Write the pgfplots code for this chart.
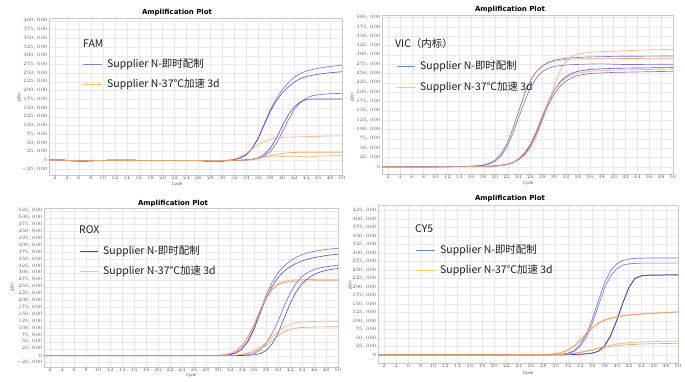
\documentclass[border=0pt]{standalone}
\usepackage{pgfplots}
\pgfplotsset{compat=1.18}
\usepackage{fontspec}
\setmainfont{Liberation Sans}
\newfontfamily\cjk{Noto Sans CJK SC}
\newfontfamily\dejavu{DejaVu Sans}
\definecolor{gridc}{RGB}{232,232,238}
\definecolor{framec}{RGB}{200,200,205}
\definecolor{tickc}{RGB}{90,90,90}
\definecolor{cbA}{RGB}{110,100,228}
\definecolor{cbB}{RGB}{72,52,192}
\definecolor{coA}{RGB}{246,172,105}
\definecolor{coB}{RGB}{238,148,78}
\definecolor{lgblue}{RGB}{110,140,205}
\definecolor{lgblueD}{RGB}{47,85,151}
\definecolor{lgorange}{RGB}{255,200,80}
\definecolor{txt}{RGB}{30,30,30}
\pgfplotsset{
  ampl/.style={
    scale only axis, anchor=south west,
    xmin=1, xmax=50, xtick={2,4,...,50},
    grid=major, major grid style={draw=gridc, line width=0.3pt},
    axis line style={draw=framec, line width=0.4pt},
    major tick length=0pt,
    tick label style={font=\fontsize{3.6}{4}\selectfont, text=tickc},
    xticklabel style={inner sep=1pt},
    yticklabel style={inner sep=1.5pt, /pgf/number format/fixed, /pgf/number format/precision=0, /pgf/number format/1000 sep={{,}}},
    scaled y ticks=false,
    ytick distance=25000,
    every axis plot/.append style={line width=0.65pt, no markers},
  },
  bl/.style={cbA, opacity=0.9},
  bd/.style={cbB, opacity=0.85},
  oa/.style={coA, opacity=0.9},
  od/.style={coB, opacity=0.85},
}
\begin{document}
\begin{tikzpicture}[x=1bp,y=1bp]
\path[use as bounding box, fill=white] (0,0) rectangle (685,381);

% ---------------- FAM ----------------
\begin{axis}[ampl, at={(49bp,206bp)}, width=293bp, height=157bp,
  ymin=-42000, ymax=408000]
\addplot[bl] coordinates {(1,1500)(3,1000)(5,-1500)(7,-2000)(9,-500)(12,500)(16,0)(22,0)(26,-500)(28,-2500)(30,-2000)(31,0)(32,2500)(33,7000)(34,16000)(35,35000)(36,65000)(37,105000)(38,145000)(39,177000)(40,202000)(41,222000)(42,238000)(43,249000)(44,256000)(46,264000)(48,269000)(50,273000)};
\addplot[bd] coordinates {(1,1500)(3,1000)(5,-1500)(7,-2000)(9,-500)(12,500)(16,0)(22,0)(26,-500)(28,-2500)(30,-2000)(31,0)(32,2500)(33,7000)(34,16000)(35,34000)(36,63000)(37,102000)(38,140000)(39,170000)(40,193000)(41,210000)(42,224000)(43,234000)(44,240000)(46,247000)(48,251000)(50,254000)};
\addplot[bl] coordinates {(1,1500)(3,1000)(5,-1500)(7,-2000)(9,-500)(12,500)(16,0)(22,0)(26,-500)(28,-2500)(30,-2000)(31,-500)(32,-500)(33,0)(34,1000)(35,2500)(36,5000)(37,12000)(38,25000)(39,48000)(40,80000)(41,115000)(42,145000)(43,165000)(44,178000)(45,185000)(46,188000)(48,191000)(50,192000)};
\addplot[bd] coordinates {(1,1500)(3,1000)(5,-1500)(7,-2000)(9,-500)(12,500)(16,0)(22,0)(26,-500)(28,-2500)(30,-2000)(31,-500)(32,0)(33,500)(34,1500)(35,3500)(36,7000)(37,17000)(38,35000)(39,62000)(40,98000)(41,130000)(42,153000)(43,167000)(44,174000)(45,176000)(50,176000)};
\addplot[oa] coordinates {(1,1000)(3,800)(5,-1000)(7,-1500)(9,-500)(12,500)(16,0)(22,0)(26,-500)(28,-2000)(30,-1000)(31,1000)(32,4000)(33,10000)(34,20000)(35,33000)(36,45000)(37,54000)(38,60000)(39,64000)(40,66000)(42,67000)(44,68000)(46,69000)(48,70000)(50,70000)};
\addplot[od] coordinates {(1,1000)(3,800)(5,-1000)(7,-1500)(9,-500)(12,500)(16,0)(22,0)(26,-500)(28,-2000)(30,-1500)(32,0)(34,500)(35,2000)(36,5000)(37,9000)(38,13000)(39,17000)(40,20000)(41,22000)(43,23000)(50,23000)};
\addplot[oa] coordinates {(1,1000)(3,800)(5,-1000)(7,-1500)(9,-500)(12,500)(16,0)(22,0)(26,-500)(28,-2000)(30,-1500)(32,0)(34,1000)(35,3000)(36,7000)(37,11000)(38,12000)(39,12000)(40,11000)(42,12000)(44,10000)(46,12000)(48,13000)(50,13000)};
\end{axis}

% ---------------- VIC ----------------
\begin{axis}[ampl, at={(382bp,207bp)}, width=291bp, height=159bp,
  ymin=-19600, ymax=407000]
\addplot[bl] coordinates {(1,0)(6,-500)(10,0)(14,500)(15,700)(16,1200)(17,2200)(18,4000)(19,8000)(20,17000)(21,33000)(22,60000)(23,100000)(24,148000)(25,195000)(26,232000)(27,256000)(28,271000)(29,280000)(30,286000)(32,291000)(35,294000)(40,296000)(50,297000)};
\addplot[od] coordinates {(1,0)(6,-500)(10,0)(14,500)(15,700)(16,1200)(17,2300)(18,4200)(19,8500)(20,18000)(21,34000)(22,61000)(23,101000)(24,149000)(25,196000)(26,232000)(27,255000)(28,269000)(29,278000)(30,283000)(32,288000)(35,290000)(40,290000)(50,291000)};
\addplot[bl] coordinates {(1,0)(6,-500)(10,0)(14,400)(16,1000)(17,2000)(18,3500)(19,7000)(20,14000)(21,28000)(22,52000)(23,88000)(24,132000)(25,175000)(26,212000)(27,238000)(28,255000)(29,264000)(30,269000)(32,273000)(35,275000)(38,276000)(42,274000)(50,275000)};
\addplot[bd] coordinates {(1,0)(6,-500)(12,0)(17,500)(19,1200)(20,2000)(21,3500)(22,6000)(23,11000)(24,20000)(25,35000)(26,58000)(27,92000)(28,133000)(29,173000)(30,205000)(31,228000)(32,242000)(33,251000)(34,256000)(36,261000)(40,264000)(50,266000)};
\addplot[oa] coordinates {(1,0)(6,-500)(12,0)(17,500)(19,1300)(20,2200)(21,4000)(22,7000)(23,12000)(24,22000)(25,38000)(26,63000)(27,98000)(28,138000)(29,176000)(30,205000)(31,225000)(32,238000)(33,246000)(34,251000)(36,256000)(40,259000)(50,262000)};
\addplot[bl] coordinates {(1,0)(6,-500)(12,0)(17,500)(19,1100)(20,1800)(21,3000)(22,5500)(23,10000)(24,19000)(25,33000)(26,55000)(27,88000)(28,127000)(29,165000)(30,195000)(31,216000)(32,230000)(33,239000)(34,245000)(36,250000)(40,253000)(50,256000)};
\addplot[oa] coordinates {(1,0)(6,-500)(12,0)(17,500)(19,1000)(20,1600)(21,2500)(22,5000)(23,10000)(24,18000)(25,30000)(26,50000)(27,80000)(28,122000)(29,170000)(30,218000)(31,258000)(32,283000)(33,296000)(34,302000)(35,305000)(36,307000)(40,310000)(45,313000)(50,315000)};
\end{axis}

% ---------------- ROX ----------------
\begin{axis}[ampl, at={(44bp,14.3bp)}, width=294bp, height=158.4bp,
  ymin=-40000, ymax=534000]
\addplot[bl] coordinates {(1,0)(10,0)(20,0)(28,0)(30,500)(31,1500)(32,4000)(33,10000)(34,25000)(35,55000)(36,100000)(37,160000)(38,218000)(39,265000)(40,300000)(41,325000)(42,343000)(43,356000)(44,366000)(45,373000)(46,378000)(48,385000)(50,389000)};
\addplot[bd] coordinates {(1,0)(10,0)(20,0)(28,0)(30,500)(31,1500)(32,4000)(33,10000)(34,24000)(35,52000)(36,95000)(37,152000)(38,207000)(39,250000)(40,283000)(41,306000)(42,322000)(43,334000)(44,343000)(45,350000)(46,355000)(48,363000)(50,368000)};
\addplot[oa] coordinates {(1,0)(10,0)(20,0)(28,0)(30,1000)(31,3000)(32,8000)(33,18000)(34,38000)(35,70000)(36,115000)(37,165000)(38,210000)(39,242000)(40,260000)(41,269000)(42,273000)(43,275000)(45,276000)(50,277000)};
\addplot[od] coordinates {(1,0)(10,0)(20,0)(28,0)(30,800)(31,2500)(32,7000)(33,16000)(34,35000)(35,66000)(36,110000)(37,160000)(38,205000)(39,238000)(40,257000)(41,265000)(42,268000)(43,270000)(45,271000)(50,272000)};
\addplot[bl] coordinates {(1,0)(10,0)(20,0)(30,0)(33,500)(34,1500)(35,3000)(36,8000)(37,20000)(38,45000)(39,80000)(40,125000)(41,178000)(42,225000)(43,262000)(44,287000)(45,302000)(46,312000)(47,318000)(48,322000)(49,325000)(50,328000)};
\addplot[bd] coordinates {(1,0)(10,0)(20,0)(30,0)(34,500)(35,1500)(36,3000)(37,7000)(38,18000)(39,42000)(40,80000)(41,135000)(42,188000)(43,230000)(44,260000)(45,280000)(46,294000)(47,303000)(48,309000)(49,313000)(50,316000)};
\addplot[oa] coordinates {(1,0)(10,0)(20,0)(30,0)(32,800)(33,2000)(34,5000)(35,10000)(36,18000)(37,30000)(38,47000)(39,67000)(40,87000)(41,103000)(42,113000)(43,119000)(44,122000)(46,124000)(48,125000)(50,126000)};
\addplot[od] coordinates {(1,0)(10,0)(20,0)(30,0)(33,1500)(34,4000)(35,8000)(36,14000)(37,24000)(38,38000)(39,55000)(40,72000)(41,86000)(42,95000)(43,100000)(44,102000)(46,104000)(50,105000)};
\end{axis}

% ---------------- CY5 ----------------
\begin{axis}[ampl, at={(378bp,18.3bp)}, width=300bp, height=157.7bp,
  ymin=-23000, ymax=441000]
\addplot[bl] coordinates {(1,0)(10,0)(20,0)(27,0)(30,1000)(31,2000)(32,5000)(33,12000)(34,30000)(35,60000)(36,105000)(37,160000)(38,212000)(39,248000)(40,268000)(41,278000)(42,282000)(43,284000)(45,285000)(50,285000)};
\addplot[bl] coordinates {(1,0)(10,0)(20,0)(27,0)(30,800)(31,1800)(32,4000)(33,10000)(34,25000)(35,52000)(36,93000)(37,145000)(38,196000)(39,233000)(40,254000)(41,264000)(42,268000)(44,270000)(50,270000)};
\addplot[bd] coordinates {(1,0)(10,0)(20,0)(30,0)(33,1000)(34,2000)(35,3000)(36,5000)(37,10000)(38,25000)(39,55000)(40,100000)(41,152000)(42,198000)(43,225000)(44,232000)(45,234000)(50,235000)};
\addplot[bd] coordinates {(1,0)(10,0)(20,0)(30,0)(33,1000)(34,2000)(35,3000)(36,5500)(37,11000)(38,27000)(39,58000)(40,103000)(41,155000)(42,200000)(43,226000)(44,233000)(45,235000)(50,236000)};
\addplot[oa] coordinates {(1,0)(10,0)(20,0)(27,500)(28,1000)(29,2000)(30,4000)(31,8000)(32,15000)(33,27000)(34,44000)(35,64000)(36,82000)(37,95000)(38,103000)(39,109000)(40,113000)(41,116000)(42,118000)(44,121000)(46,123000)(48,125000)(50,127000)};
\addplot[od] coordinates {(1,0)(10,0)(20,0)(27,500)(28,900)(29,1800)(30,3500)(31,7000)(32,13000)(33,24000)(34,40000)(35,60000)(36,78000)(37,92000)(38,101000)(39,107000)(40,111000)(42,117000)(46,122000)(50,126000)};
\addplot[oa] coordinates {(1,0)(10,0)(20,0)(29,500)(31,1000)(32,3000)(33,5000)(34,8000)(35,12000)(36,16000)(37,20000)(38,25000)(39,29000)(40,32000)(41,34000)(42,36000)(44,38000)(46,39000)(48,40000)(50,41000)};
\addplot[od] coordinates {(1,0)(10,0)(20,0)(29,500)(31,1000)(32,2500)(33,4000)(34,7000)(35,10000)(36,14000)(37,18000)(38,22000)(39,25000)(40,27000)(41,29000)(42,30000)(44,32000)(46,33000)(50,34000)};
\end{axis}

% ---------------- titles & axis names ----------------
\begin{scope}[every node/.style={inner sep=0pt}]
\node[font=\dejavu\bfseries\fontsize{7}{8}\selectfont, text=black] at (177,368.3) {Amplification Plot};
\node[font=\dejavu\bfseries\fontsize{7}{8}\selectfont, text=black] at (510,371.7) {Amplification Plot};
\node[font=\dejavu\bfseries\fontsize{7}{8}\selectfont, text=black] at (173,177) {Amplification Plot};
\node[font=\dejavu\bfseries\fontsize{7}{8}\selectfont, text=black] at (510,182) {Amplification Plot};
\node[font=\fontsize{4.2}{5}\selectfont, text=tickc] at (177,197) {Cycle};
\node[font=\fontsize{4.2}{5}\selectfont, text=tickc] at (528,198) {Cycle};
\node[font=\fontsize{4.2}{5}\selectfont, text=tickc] at (191,5.5) {Cycle};
\node[font=\fontsize{4.2}{5}\selectfont, text=tickc] at (528,7.5) {Cycle};
\node[font=\dejavu\fontsize{4.2}{5}\selectfont, text=tickc, rotate=90] at (19,284) {ΔRn};
\node[font=\dejavu\fontsize{4.2}{5}\selectfont, text=tickc, rotate=90] at (352,284) {ΔRn};
\node[font=\dejavu\fontsize{4.2}{5}\selectfont, text=tickc, rotate=90] at (12,94) {ΔRn};
\node[font=\dejavu\fontsize{4.2}{5}\selectfont, text=tickc, rotate=90] at (350,96) {ΔRn};
\end{scope}

% ---------------- legends ----------------
\begin{scope}[every node/.style={inner sep=0pt, anchor=west, text=txt, font=\cjk\fontsize{10.5}{12}\selectfont}]
\node at (83,337) {FAM};
\draw[lgblue, line width=0.6pt] (83,316.5) -- (102,316.5);
\node at (107,316.5) {Supplier N-即时配制};
\draw[lgorange, line width=0.6pt] (83,297) -- (102,297);
\node at (107,297) {Supplier N-37°C加速 3d};

\node at (395,337) {VIC（内标）};
\draw[lgblue, line width=0.6pt] (397,315) -- (415,315);
\node at (420,315) {Supplier N-即时配制};
\draw[lgorange, line width=0.6pt] (397,294) -- (415,294);
\node at (420,294) {Supplier N-37°C加速 3d};

\node at (79,151) {ROX};
\draw[lgblueD, line width=0.6pt] (80,130) -- (98,130);
\node at (103,130) {Supplier N-即时配制};
\draw[lgorange, line width=0.6pt] (80,110) -- (98,110);
\node at (103,110) {Supplier N-37°C加速 3d};

\node at (415,152) {CY5};
\draw[lgblue, line width=0.6pt] (416,131) -- (435,131);
\node at (440,131) {Supplier N-即时配制};
\draw[lgorange, line width=0.6pt] (416,111) -- (435,111);
\node at (440,111) {Supplier N-37°C加速 3d};
\end{scope}
\end{tikzpicture}
\end{document}
